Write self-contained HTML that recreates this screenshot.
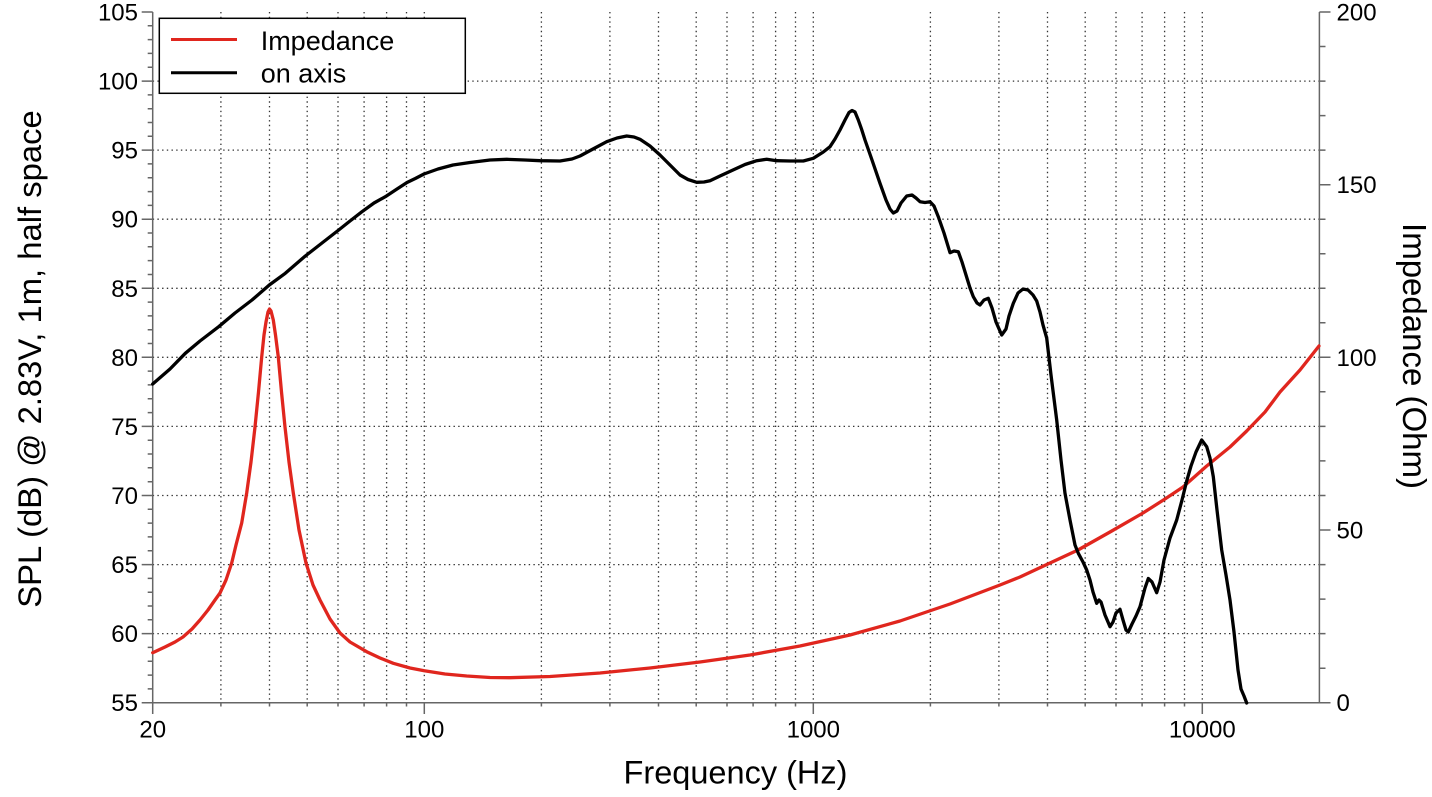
<!DOCTYPE html>
<html>
<head>
<meta charset="utf-8">
<style>
html,body{margin:0;padding:0;background:#fff;}
svg{display:block;font-family:"Liberation Sans",Arial,sans-serif;}
</style>
</head>
<body>
<svg width="1432" height="797" viewBox="0 0 1432 797" xmlns="http://www.w3.org/2000/svg">
<rect width="1432" height="797" fill="#fff"/>
<!-- grid -->
<g stroke="#333" stroke-width="1.3" stroke-dasharray="1.4 3.3" fill="none">
<path d="M220.9 12V702.7M269.5 12V702.7M307.2 12V702.7M338 12V702.7M364.1 12V702.7M386.6 12V702.7M406.5 12V702.7M424.3 12V702.7M541.4 12V702.7M609.9 12V702.7M658.5 12V702.7M696.2 12V702.7M727 12V702.7M753.1 12V702.7M775.6 12V702.7M795.5 12V702.7M813.3 12V702.7M930.4 12V702.7M998.9 12V702.7M1047.5 12V702.7M1085.2 12V702.7M1116 12V702.7M1142.1 12V702.7M1164.6 12V702.7M1184.5 12V702.7M1202.3 12V702.7"/>
<path d="M152.7 633.6H1319.4M152.7 564.6H1319.4M152.7 495.5H1319.4M152.7 426.4H1319.4M152.7 357.3H1319.4M152.7 288.3H1319.4M152.7 219.2H1319.4M152.7 150.1H1319.4M152.7 81.1H1319.4"/>
</g>
<!-- axes -->
<g stroke="#666" stroke-width="1.5" fill="none">
<path d="M152.7 12V702.7H1319.4V12"/>
<path d="M141.7 12H152.7M141.7 81.1H152.7M141.7 150.1H152.7M141.7 219.2H152.7M141.7 288.3H152.7M141.7 357.3H152.7M141.7 426.4H152.7M141.7 495.5H152.7M141.7 564.6H152.7M141.7 633.6H152.7M141.7 702.7H152.7"/>
<path d="M147.7 25.8H152.7M147.7 39.6H152.7M147.7 53.4H152.7M147.7 67.3H152.7M147.7 94.9H152.7M147.7 108.7H152.7M147.7 122.5H152.7M147.7 136.3H152.7M147.7 163.9H152.7M147.7 177.7H152.7M147.7 191.6H152.7M147.7 205.4H152.7M147.7 233H152.7M147.7 246.8H152.7M147.7 260.6H152.7M147.7 274.5H152.7M147.7 302.1H152.7M147.7 315.9H152.7M147.7 329.7H152.7M147.7 343.5H152.7M147.7 371.1H152.7M147.7 384.9H152.7M147.7 398.8H152.7M147.7 412.6H152.7M147.7 440.2H152.7M147.7 454H152.7M147.7 467.8H152.7M147.7 481.7H152.7M147.7 509.3H152.7M147.7 523.1H152.7M147.7 536.9H152.7M147.7 550.7H152.7M147.7 578.4H152.7M147.7 592.2H152.7M147.7 606H152.7M147.7 619.8H152.7M147.7 647.4H152.7M147.7 661.2H152.7M147.7 675.1H152.7M147.7 688.9H152.7"/>
<path d="M152.7 702.7V714M424.3 702.7V714M813.3 702.7V714M1202.3 702.7V714"/>
<path d="M220.9 702.7V706.5M269.5 702.7V706.5M307.2 702.7V706.5M338 702.7V706.5M364.1 702.7V706.5M386.6 702.7V706.5M406.5 702.7V706.5M541.4 702.7V706.5M609.9 702.7V706.5M658.5 702.7V706.5M696.2 702.7V706.5M727 702.7V706.5M753.1 702.7V706.5M775.6 702.7V706.5M795.5 702.7V706.5M930.4 702.7V706.5M998.9 702.7V706.5M1047.5 702.7V706.5M1085.2 702.7V706.5M1116 702.7V706.5M1142.1 702.7V706.5M1164.6 702.7V706.5M1184.5 702.7V706.5"/>
<path d="M1319.4 12H1330.5M1319.4 184.7H1330.5M1319.4 357.3H1330.5M1319.4 530H1330.5M1319.4 702.7H1330.5"/>
<path d="M1319.4 46.5H1325.5M1319.4 81.1H1325.5M1319.4 115.6H1325.5M1319.4 150.1H1325.5M1319.4 219.2H1325.5M1319.4 253.7H1325.5M1319.4 288.3H1325.5M1319.4 322.8H1325.5M1319.4 391.8H1325.5M1319.4 426.4H1325.5M1319.4 460.9H1325.5M1319.4 495.5H1325.5M1319.4 564.6H1325.5M1319.4 599.1H1325.5M1319.4 633.6H1325.5M1319.4 668.2H1325.5"/>
</g>
<!-- left tick labels -->
<g font-size="24" fill="#000" text-anchor="end">
<text x="138" y="20.5">105</text>
<text x="138" y="89.6">100</text>
<text x="138" y="158.6">95</text>
<text x="138" y="227.7">90</text>
<text x="138" y="296.8">85</text>
<text x="138" y="365.8">80</text>
<text x="138" y="434.9">75</text>
<text x="138" y="504">70</text>
<text x="138" y="573.1">65</text>
<text x="138" y="642.1">60</text>
<text x="138" y="711.2">55</text>
</g>
<!-- right tick labels -->
<g font-size="24" fill="#000" text-anchor="start">
<text x="1336.5" y="20.5">200</text>
<text x="1336.5" y="193.2">150</text>
<text x="1336.5" y="365.8">100</text>
<text x="1336.5" y="538.5">50</text>
<text x="1336.5" y="711.2">0</text>
</g>
<!-- bottom tick labels -->
<g font-size="24" fill="#000" text-anchor="middle">
<text x="152.7" y="737.5">20</text>
<text x="424.3" y="737.5">100</text>
<text x="813.3" y="737.5">1000</text>
<text x="1202.3" y="737.5">10000</text>
</g>
<!-- axis titles -->
<text x="735.5" y="783.5" font-size="32.5" text-anchor="middle" fill="#000">Frequency (Hz)</text>
<text transform="translate(41,359) rotate(-90)" font-size="32.8" text-anchor="middle" fill="#000">SPL (dB) @ 2.83V, 1m, half space</text>
<text transform="translate(1403,356) rotate(90)" font-size="33" text-anchor="middle" fill="#000">Impedance (Ohm)</text>

<!-- impedance curve -->
<polyline fill="none" stroke="#e0261e" stroke-width="3.3" stroke-linejoin="round" stroke-linecap="round" points="152.7,652.7 165,647 175,642 183,637 192,629 200,620 208,610 215,600 220,593 226,580 231.7,563 236,545 241.7,523 246.7,493 251,462 255,427 258.5,392 261.7,357 264,335 266,322 268,312 269.5,309 271,311 273.3,320 275.5,335 278.3,357 281.5,392 285,427 289,462 293.3,493 299,530 306,563 313,585 320,600 330,619 340,633 350,642 366.7,651.7 380,658 393.3,663.3 410,668 424.3,670.7 445,674 466.7,676 490,677.5 510,677.7 550,676.5 600,673 650,668 700,662 750,655 800,646 850,635 900,621 950,604 1000,585 1020,577 1050,563 1078,550 1110,532 1143,513 1165,499 1183,487 1206.7,466 1230,447 1246.7,431 1265,412 1280,392 1300,370 1319,346"/>

<!-- on axis curve -->
<polyline fill="none" stroke="#000" stroke-width="3.3" stroke-linejoin="round" stroke-linecap="round" points="152.7,384 170,369 185.3,353.3 200,341 218.7,326.7 235,313 252,300 269.3,285 285.3,273.3 305.3,256 322,243 338.7,230 350,221 362,211.7 374,203 385.3,196.7 397,189 407,182.5 415.3,178.5 424,174 438,169 453,165 470,162.5 490,160 506.7,159.3 525,160 540,160.7 560,161 572,159 580,156 593,149 606.7,141.7 617,138 626.7,136 634,137 640,139.3 650,146 660,155 670,165 680,175 688,179.5 696.7,182.3 704,182 710,180.7 720,176 733,170 745,164.5 756.7,160.7 766.7,159.3 776.7,160.7 790,161 803.3,161 813.3,158.3 823.3,152 830,146.7 835,139 840,130 845,120 849,112.5 852,110.5 855,112 858.3,120 861.5,129 865,140 872,160 880,183.3 886,200 890,209 893.3,213 897,211 901,203 906.7,196 912,195 916,198 920,201.7 925,202.5 930,201.7 934,206 938.3,216.7 944,233 950,252.7 954,251 958.3,251.7 962,262 966,275 970,288 973.3,296.7 977,303 980,305 984,300 988.3,298.3 992,308 996,322 1001.7,335 1006,329 1009,316 1013.3,303.3 1018,293 1023,289 1028,290 1033,295 1036.7,301 1040,312 1043,325 1046.7,338 1051,375 1056.7,420 1061,460 1065,493.3 1070,520 1075,545 1078.3,553.3 1083,562 1086.7,570 1090,580 1093,592 1096.7,603.3 1099,600 1101,602 1105,615 1110,626.7 1113,622 1116,613 1120,609.3 1123,620 1126,630 1128.3,632 1132,624 1136,616 1140,606.7 1145,588 1148.3,578.5 1152,582 1156.7,592.7 1160,582 1164,560 1170,538 1176.7,520 1182,500 1186.7,481 1191,466 1196,452 1201.7,440 1206.7,446.7 1210,458 1213.3,476.7 1217,510 1221.7,550 1226,575 1230,600 1234,632 1238,670 1241,689 1244,696 1246.7,703"/>

<!-- legend -->
<rect x="159.3" y="18.3" width="306" height="75" fill="#fff" stroke="#000" stroke-width="1.5"/>
<line x1="171" y1="39.5" x2="237" y2="39.5" stroke="#e0261e" stroke-width="3"/>
<line x1="171" y1="72.7" x2="237" y2="72.7" stroke="#000" stroke-width="3"/>
<text x="260.7" y="50" font-size="27" fill="#000">Impedance</text>
<text x="260.7" y="82.5" font-size="27" fill="#000">on axis</text>
</svg>
</body>
</html>
